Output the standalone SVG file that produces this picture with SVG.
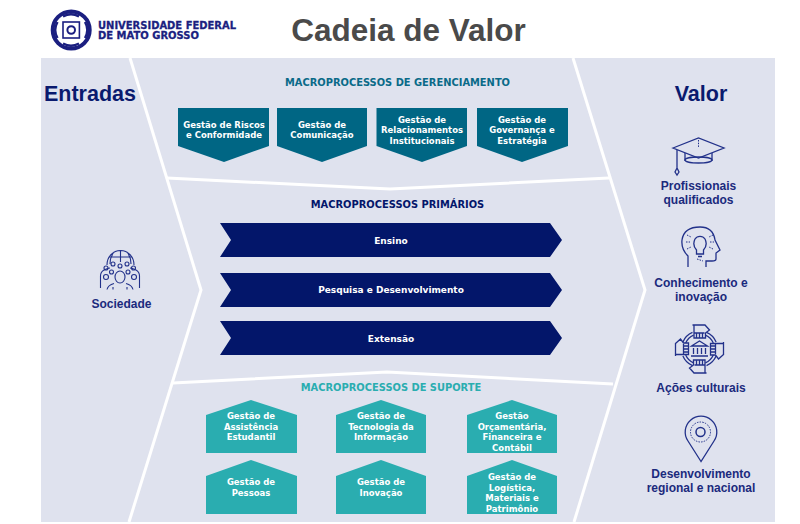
<svg xmlns="http://www.w3.org/2000/svg" width="800" height="524" viewBox="0 0 800 524">
<style>
.t{font-family:"DejaVu Sans",sans-serif;font-weight:700;font-size:8.5px;fill:#fff;text-anchor:middle}
.t9{font-size:9px}
.h{font-family:"DejaVu Sans",sans-serif;font-weight:700;font-size:9.9px;text-anchor:middle}
.l{font-family:"Liberation Sans",Arial,sans-serif;font-weight:700;font-size:12px;fill:#1b2a7d;text-anchor:middle}
.b{font-family:"Liberation Sans",Arial,sans-serif;font-weight:700;font-size:21.500px;fill:#0a1a6e;text-anchor:middle}
.u{font-family:"DejaVu Sans",sans-serif;font-weight:700;font-size:10px;fill:#1b1f80;stroke:#1b1f80;stroke-width:.3}
.sep{fill:none;stroke:#fff;stroke-width:3}
.g{fill:#006684}.p{fill:#03166a}.s{fill:#2aadb0}
.i{fill:none;stroke:#22318a;stroke-width:1.300}
.d{stroke-dasharray:1.500 1.200;stroke-width:1}
.lg{fill:none;stroke:#1b1f80}
</style>
<defs>
<g id="hand">
<path d="M-7 -24H6M-5.500 -24V-11H6V-16L10 -19L5.500 -24M-3 -16V-11M0 -16V-11M3 -16V-11M-5.500 -16H5"/>
<path d="M7 -16.600A18 18 0 0 1 16.600 -7M5.900 -13.800A15 15 0 0 1 13.800 -5.900"/>
</g>
</defs>
<rect id="panel" x="41" y="58" width="734" height="464" fill="#dfe2ee"/>
<g id="connectors" class="sep">
<path d="M130 58L201 290L129 522"/>
<path d="M573 58L645 290L574 522"/>
<path d="M167 178L390 189L609 178"/>
<path d="M173 383L387 372L613 384"/>
</g>
<g id="logo">
<circle class="lg" cx="71.200" cy="30" r="18.500" stroke-width="4"/>
<path class="lg" stroke-width="2.400" d="M57.500 22A16 16 0 0 0 57.500 38M85 22A16 16 0 0 1 85 38M63 16.500A16 16 0 0 1 79 16.500M63 43.500A16 16 0 0 0 79 43.500"/>
<rect class="lg" x="63" y="22" width="16.400" height="16" stroke-width="1.600"/>
<circle class="lg" cx="71.200" cy="30" r="3.800" stroke-width="2"/>
<text class="u" x="98" y="28.500" textLength="138" lengthAdjust="spacingAndGlyphs">UNIVERSIDADE FEDERAL</text>
<text class="u" x="98" y="39" textLength="101" lengthAdjust="spacingAndGlyphs">DE MATO GROSSO</text>
</g>
<text id="title" x="408.500" y="41" font-family="Liberation Sans,Arial,sans-serif" font-weight="700" font-size="31.500" fill="#4a4a4a" text-anchor="middle">Cadeia de Valor</text>
<text id="entradas" class="b" x="90" y="100.500">Entradas</text>
<text id="valor" class="b" x="701" y="100.500">Valor</text>
<text id="hg" class="h" x="397.500" y="86" fill="#0a6a88">MACROPROCESSOS DE GERENCIAMENTO</text>
<text id="hp" class="h" x="397.500" y="208" fill="#03166a">MACROPROCESSOS PRIMÁRIOS</text>
<text id="hs" class="h" x="391" y="390.500" fill="#2aadb0">MACROPROCESSOS DE SUPORTE</text>
<g id="g1"><path class="g" d="M178 108H269V146L224 162L178 146Z"/><text class="t" x="224" y="128">Gestão de Riscos</text><text class="t" x="224" y="138">e Conformidade</text></g>
<g id="g2"><path class="g" d="M277 108H367V146L322 162L277 146Z"/><text class="t" x="322" y="128">Gestão de</text><text class="t" x="322" y="138">Comunicação</text></g>
<g id="g3"><path class="g" d="M376.500 108H467V146L422 162L376.500 146Z"/><text class="t" x="422" y="122.500">Gestão de</text><text class="t" x="422" y="133">Relacionamentos</text><text class="t" x="422" y="143.500">Institucionais</text></g>
<g id="g4"><path class="g" d="M477 108H568V146L522 162L477 146Z"/><text class="t" x="522" y="122.500">Gestão de</text><text class="t" x="522" y="133">Governança e</text><text class="t" x="522" y="143.500">Estratégia</text></g>
<g id="p1"><path class="p" d="M220 223H550L562 240L550 257H220L231 240Z"/><text class="t t9" x="391" y="243.500">Ensino</text></g>
<g id="p2"><path class="p" d="M220 273H550L562 290L550 307H220L231 290Z"/><text class="t t9" x="391" y="293">Pesquisa e Desenvolvimento</text></g>
<g id="p3"><path class="p" d="M220 321H550L562 338L550 355H220L231 338Z"/><text class="t t9" x="391" y="341.500">Extensão</text></g>
<g id="s1"><path class="s" d="M206 415L251 400L297 415V453H206Z"/><text class="t" x="251" y="419">Gestão de</text><text class="t" x="251" y="429.500">Assistência</text><text class="t" x="251" y="440">Estudantil</text></g>
<g id="s2"><path class="s" d="M336 415L381 400L426 415V453H336Z"/><text class="t" x="381" y="419">Gestão de</text><text class="t" x="381" y="429.500">Tecnologia da</text><text class="t" x="381" y="440">Informação</text></g>
<g id="s3"><path class="s" d="M467 415L512 400L557 415V453H467Z"/><text class="t" x="512" y="419">Gestão</text><text class="t" x="512" y="429.500">Orçamentária,</text><text class="t" x="512" y="440">Financeira e</text><text class="t" x="512" y="450.500">Contábil</text></g>
<g id="s4"><path class="s" d="M206 476L251 460L297 476V514H206Z"/><text class="t" x="251" y="485">Gestão de</text><text class="t" x="251" y="496">Pessoas</text></g>
<g id="s5"><path class="s" d="M336 476L381 460L426 476V514H336Z"/><text class="t" x="381" y="485">Gestão de</text><text class="t" x="381" y="496">Inovação</text></g>
<g id="s6"><path class="s" d="M467 476L512 460L557 476V514H467Z"/><text class="t" x="512" y="480">Gestão de</text><text class="t" x="512" y="490.500">Logística,</text><text class="t" x="512" y="501">Materiais e</text><text class="t" x="512" y="511.500">Patrimônio</text></g>
<g id="sociedade"><g class="i" stroke-width="1.100" style="stroke-width:1.100">
<path d="M107 265A13.500 14.500 0 0 1 134 265M120.500 250.500V262M114 252Q110 257 110 264M127 252Q131 257 131 264M109 257H132"/>
<ellipse cx="120" cy="277" rx="5" ry="6"/><path d="M107 289.500Q108 285 114 283.500M133 289.500Q132 285 126 283.500M113 289.500V287M127 289.500V287"/>
<circle cx="106" cy="277" r="2.500"/><circle cx="134" cy="277" r="2.500"/><circle cx="113" cy="264" r="2"/><circle cx="127" cy="264" r="2"/><circle cx="120" cy="266" r="2"/><circle cx="106" cy="268" r="2"/><circle cx="133.500" cy="268" r="2"/><circle cx="111.500" cy="272" r="2"/><circle cx="128" cy="272" r="2"/>
<path d="M100.500 288V276Q100.500 272 104 270M139.500 288V276Q139.500 272 136 270M104 270Q108 268 110 268M136 270Q132 268 130 268"/>
</g><text class="l" x="121.500" y="308">Sociedade</text></g>
<g id="profissionais"><g class="i">
<path d="M673 148L698.500 138L724 148L698.500 158Z"/><path d="M685 153V161M712 153V161"/><ellipse cx="698.500" cy="160" rx="13.500" ry="3"/>
<path d="M677 150V168M677 168L675 172L677 175L679 172Z"/><path class="d" d="M698.500 140V148"/>
</g><text class="l" x="698.500" y="190">Profissionais</text><text class="l" x="698.500" y="204">qualificados</text></g>
<g id="conhecimento"><g class="i">
<path d="M688 267V256Q681 249 682 240Q684 227 700 227Q713 227 715 240L720 250L716 253V259Q716 261 712 261H706V267"/>
<path d="M696.500 250Q692 245 695 239A6 6 0 0 1 705 239Q708 245 703.500 250V254H696.500ZM698 256.500H702"/>
<path class="d" d="M697 259L703 261M686 242H690M710 242H714M687 235L691 237M713 235L709 237M687 249L691 247M713 249L709 247"/>
</g><text class="l" x="701" y="287">Conhecimento e</text><text class="l" x="701" y="301">inovação</text></g>
<g id="acoes"><g class="i" transform="translate(699.500 349)">
<use href="#hand"/><use href="#hand" transform="rotate(90)"/><use href="#hand" transform="rotate(180)"/><use href="#hand" transform="rotate(270)"/>
<path d="M-8 -3L0 -8L8 -3ZM-6 -1V5M-2 -1V5M2 -1V5M6 -1V5M-8.500 7H8.500"/>
</g><text class="l" x="701" y="392">Ações culturais</text></g>
<g id="desenvolvimento"><g class="i">
<path d="M701 461.500L688 441A15.800 15.800 0 1 1 714 441Z"/><circle cx="700.500" cy="432" r="4.500" stroke-width="1.500" style="stroke-width:1.500"/><circle class="d" cx="700.500" cy="432" r="10"/>
</g><text class="l" x="701" y="477.500">Desenvolvimento</text><text class="l" x="701" y="492">regional e nacional</text></g>
</svg>
